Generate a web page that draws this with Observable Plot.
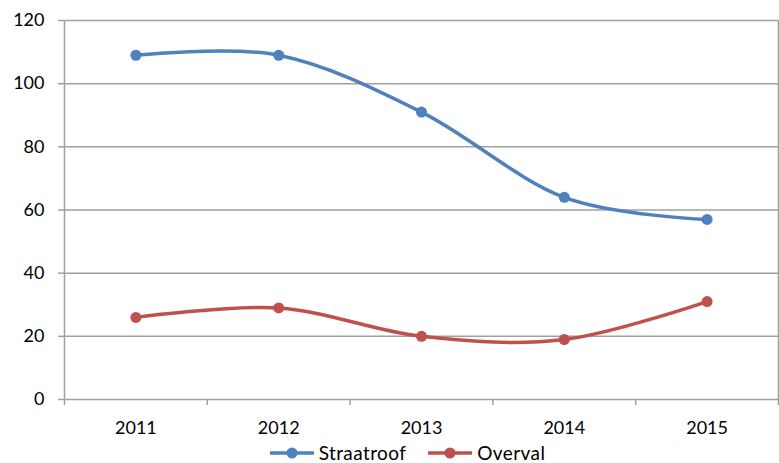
<!DOCTYPE html>
<html>
<head>
<meta charset="utf-8">
<script src="https://cdn.jsdelivr.net/npm/d3@7"></script>
<script src="https://cdn.jsdelivr.net/npm/@observablehq/plot@0.6"></script>
<style>
  html, body { margin: 0; padding: 0; background: #fff; }
  #chart { width: 779px; position: relative; font-family: Lato, "Open Sans", sans-serif; }
  #legend { height: 21px; display: flex; justify-content: center; align-items: center; gap: 21px; font-size: 19px; letter-spacing: 0.4px; color: #000; margin-left: 35px; line-height: 21px; }
  .item { display: flex; align-items: center; gap: 4px; }
</style>
</head>
<body>
<div id="chart"></div>
<script>
const years = [2011, 2012, 2013, 2014, 2015];
const straatroof = [109, 109, 91, 64, 57];
const overval = [26, 29, 20, 19, 31];
const yTicks = [0, 20, 40, 60, 80, 100, 120];
const seriesNames = ["Straatroof", "Overval"];
const seriesColors = ["#4f81bd", "#c0504d"];

const data = [
  ...years.map((y, i) => ({year: y, value: straatroof[i], series: seriesNames[0]})),
  ...years.map((y, i) => ({year: y, value: overval[i], series: seriesNames[1]}))
];
const bounds = [years[0] - 0.5, ...years.map(y => y + 0.5)];

const plot = Plot.plot({
  width: 779,
  height: 442,
  marginTop: 20,
  marginBottom: 43,
  marginLeft: 64,
  marginRight: 1,
  style: {fontFamily: "Lato, 'Open Sans', sans-serif", fontSize: "18px", color: "#000", background: "#fff", overflow: "visible"},
  x: {domain: [bounds[0], bounds[bounds.length - 1]], axis: null},
  y: {domain: [0, 120], axis: null},
  color: {domain: seriesNames, range: seriesColors},
  marks: [
    Plot.ruleY(yTicks, {stroke: "#a0a0a0", strokeWidth: 1.5}),
    Plot.ruleX([bounds[0], bounds[bounds.length - 1]], {stroke: "#a0a0a0", strokeWidth: 1.5}),
    Plot.axisY({ticks: yTicks, tickSize: 6, tickPadding: 14, label: null, stroke: "#a0a0a0", fill: "#000", fontSize: 18, strokeWidth: 1.5}),
    Plot.axisX({ticks: bounds, tickSize: 6, label: null, tickFormat: () => "", stroke: "#a0a0a0", strokeWidth: 1.5}),
    Plot.axisX({ticks: years, tickSize: 0, tickPadding: 22, label: null, tickFormat: d => String(d), fill: "#000", fontSize: 18}),
    Plot.line(data, {x: "year", y: "value", z: "series", stroke: "series", strokeWidth: 3.5, curve: "cardinal"}),
    Plot.dot(data, {x: "year", y: "value", fill: "series", r: 5.5, stroke: "none"})
  ]
});
document.getElementById("chart").appendChild(plot);

const legend = document.createElement("div");
legend.id = "legend";
seriesNames.forEach((name, i) => {
  const item = document.createElement("div");
  item.className = "item";
  item.innerHTML = `<svg width="46" height="14"><line x1="1" y1="7" x2="45" y2="7" stroke="${seriesColors[i]}" stroke-width="3.5"/><circle cx="23" cy="7" r="5.5" fill="${seriesColors[i]}"/></svg><span>${name}</span>`;
  legend.appendChild(item);
});
document.getElementById("chart").appendChild(legend);
</script>
</body>
</html>
